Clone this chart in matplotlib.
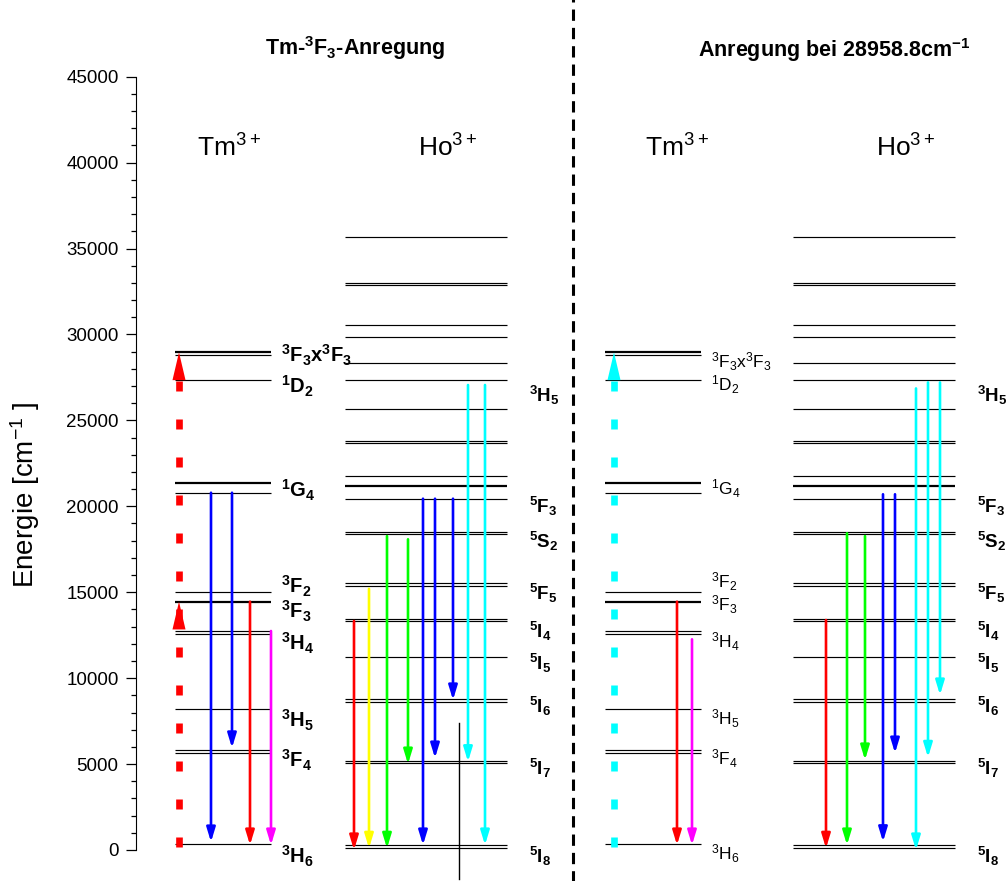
import matplotlib
matplotlib.use("Agg")
import matplotlib.pyplot as plt
from matplotlib.ticker import MultipleLocator

plt.rcParams['font.family'] = ['Liberation Sans', 'DejaVu Sans']
plt.rcParams['mathtext.default'] = 'regular'

# energy levels [cm^-1]
tm_levels = [350, 5625, 5820, 8205, 12570, 12745, 14450, 14995, 20790, 21375, 27370, 28800, 28958]
tm_thick = [14450, 21375, 28958]
ho_levels = [135, 290, 5045, 5197, 8630, 8770, 11250, 13326, 13442, 15380, 15520,
             18388, 18522, 20442, 21180, 21763, 23700, 23817, 25680, 27350, 28320,
             29835, 30550, 32860, 33013, 35653]
ho_thick = [21180]

tm_names = ['$^3$F$_3$x$^3$F$_3$', '$^1$D$_2$', '$^1$G$_4$', '$^3$F$_2$', '$^3$F$_3$',
            '$^3$H$_4$', '$^3$H$_5$', '$^3$F$_4$', '$^3$H$_6$']
ho_names = ['$^3$H$_5$', '$^5$F$_3$', '$^5$S$_2$', '$^5$F$_5$', '$^5$I$_4$',
            '$^5$I$_5$', '$^5$I$_6$', '$^5$I$_7$', '$^5$I$_8$']

# label heights (energy units)
tm_lbl_left = [28804, 26960, 20948, 15321, 13867, 12045, 7565, 5237, -390]
tm_lbl_right = [28415, 27060, 21048, 15613, 14257, 12122, 7664, 5336, -192]
ho_lbl = [26477, 19977, 17940, 14937, 12703, 10864, 8339, 4754, -390]

# excitation energies
exc_left = [14450, 28958]
exc_right = [28958]

# emission transitions: start, end, colour
tm_l_from = [20790, 20790, 14450, 12745]
tm_l_to = [465, 5940, 290, 290]
tm_l_col = ['blue', 'blue', 'red', 'magenta']

ho_l_from = [13326, 15200, 18270, 18080, 20442, 20442, 20442, 27060, 27060]
ho_l_to = [0, 100, 100, 5000, 290, 5350, 8730, 5138, 290]
ho_l_col = ['red', 'yellow', 'lime', 'lime', 'blue', 'blue', 'blue', 'cyan', 'cyan']

tm_r_from = [14450, 12260]
tm_r_to = [290, 290]
tm_r_col = ['red', 'magenta']

ho_r_from = [13384, 18430, 18270, 20700, 20700, 26860, 27210, 27210]
ho_r_to = [100, 290, 5237, 480, 5640, 0, 5390, 9020]
ho_r_col = ['red', 'lime', 'lime', 'blue', 'blue', 'cyan', 'cyan', 'cyan']

# layout (x in pixel-like units)
tm_l_span = (175, 271)
ho_l_span = (345, 507)
tm_r_span = (605, 701)
ho_r_span = (793, 955)
tm_l_x = [211, 232, 250, 271]
ho_l_x = [354, 369, 387, 408, 423, 435, 453, 468, 485]
tm_r_x = [677, 692]
ho_r_x = [826, 847, 865, 883, 895, 916, 928, 940]

W, H = 1006, 881
fig = plt.figure(figsize=(W / 100, H / 100), dpi=100)
ax = fig.add_axes([136 / W, 31 / H, 870 / W, 773.3 / H])
ax.set_xlim(136, 1006)
ax.set_ylim(0, 45000)
for s in ['top', 'right', 'bottom']:
    ax.spines[s].set_visible(False)
ax.set_xticks([])
ax.yaxis.set_major_locator(MultipleLocator(5000))
ax.yaxis.set_minor_locator(MultipleLocator(1000))
ax.tick_params(axis='y', which='major', length=7.5, width=0.9, labelsize=13.5, pad=5)
ax.tick_params(axis='y', which='minor', length=3.6, width=0.9)
ax.set_ylabel('Energie [cm$^{-1}$ ]', fontsize=20)
ax.yaxis.set_label_coords(-0.108, 0.459)


def levels(levs, thick, span):
    for e in levs:
        lw = 1.6 if e in thick else 0.85
        ax.hlines(e, span[0], span[1], colors='black', lw=lw, clip_on=False)


def arrows(xs, e0s, e1s, cols):
    for x, e0, e1, c in zip(xs, e0s, e1s, cols):
        ax.annotate('', xy=(x, e1), xytext=(x, e0), annotation_clip=False,
                    arrowprops=dict(arrowstyle='-|>,head_length=0.85,head_width=0.26',
                                    color=c, lw=1.9, mutation_scale=10,
                                    shrinkA=0, shrinkB=0))


def excitation(x, tips, col):
    top = tips[-1] - 1650
    ax.plot([x, x], [150, top], color=col, lw=4.8, dashes=(1.5, 4.2),
            solid_capstyle='butt', clip_on=False)
    for t in tips:
        ax.annotate('', xy=(x, t), xytext=(x, t - 1600), annotation_clip=False,
                    arrowprops=dict(arrowstyle='-|>,head_length=2.0,head_width=0.47',
                                    color=col, lw=0, mutation_scale=10,
                                    shrinkA=0, shrinkB=0))


levels(tm_levels, tm_thick, tm_l_span)
levels(ho_levels, ho_thick, ho_l_span)
levels(tm_levels, tm_thick, tm_r_span)
levels(ho_levels, ho_thick, ho_r_span)

excitation(179, exc_left, 'red')
excitation(614, exc_right, 'cyan')

arrows(tm_l_x, tm_l_from, tm_l_to, tm_l_col)
arrows(ho_l_x, ho_l_from, ho_l_to, ho_l_col)
arrows(tm_r_x, tm_r_from, tm_r_to, tm_r_col)
arrows(ho_r_x, ho_r_from, ho_r_to, ho_r_col)

# thin vertical line in the Ho column
ax.plot([459, 459], [7400, -1690], color='black', lw=1.0, clip_on=False)

# state labels
for name, y in zip(tm_names, tm_lbl_left):
    ax.text(281, y, name, fontsize=14.5, fontweight='bold', va='center', ha='left')
for name, y in zip(ho_names, ho_lbl):
    ax.text(529, y, name, fontsize=13.5, fontweight='bold', va='center', ha='left')
for name, y in zip(tm_names, tm_lbl_right):
    ax.text(711, y, name, fontsize=12.5, va='center', ha='left')
for name, y in zip(ho_names, ho_lbl):
    ax.text(977, y, name, fontsize=13.5, fontweight='bold', va='center', ha='left')

# headers
for x, s in [(197, 'Tm$^{3+}$'), (418, 'Ho$^{3+}$'), (645, 'Tm$^{3+}$'), (876, 'Ho$^{3+}$')]:
    fig.text(x / W, 1 - 148 / H, s, fontsize=19, va='center', ha='left')
fig.text(355 / W, 1 - 48 / H, 'Tm-$^3$F$_3$-Anregung', fontsize=15.5, fontweight='bold',
         va='center', ha='center')
fig.text(834 / W, 1 - 50 / H, 'Anregung bei 28958.8cm$^{-1}$', fontsize=15.5,
         fontweight='bold', va='center', ha='center')

# separator between the two panels
ax.axvline(573, ymin=-0.05, ymax=1.11, color='black', lw=2.2, dashes=(3.7, 2.3),
           clip_on=False)

fig.savefig('out.png', dpi=100)
